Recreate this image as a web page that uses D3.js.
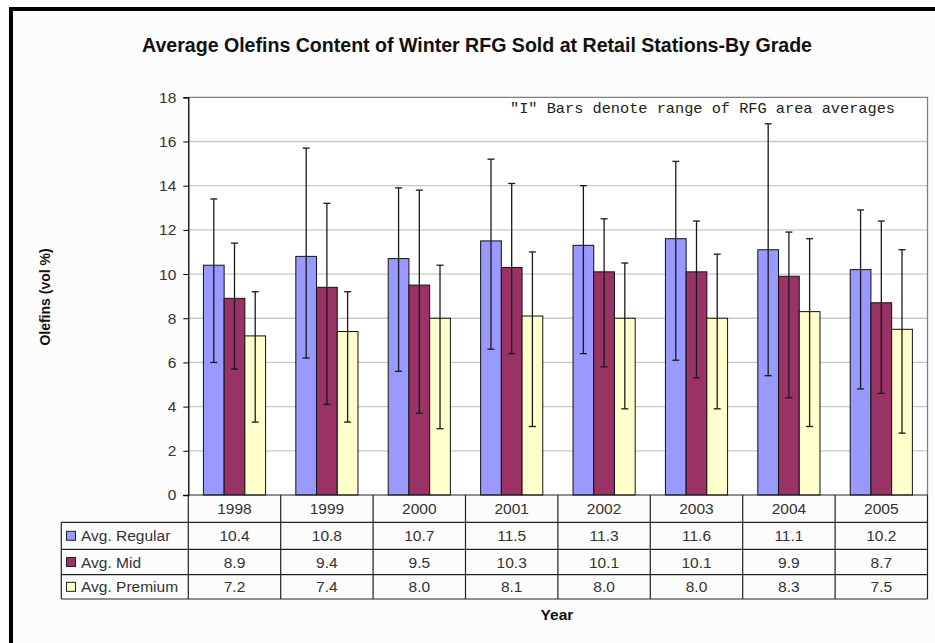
<!DOCTYPE html>
<html><head><meta charset="utf-8">
<script src="https://cdn.jsdelivr.net/npm/d3@7"></script>
<style>html,body{margin:0;padding:0;background:#fff;}svg{display:block;}</style>
</head><body>
<svg id="chart" width="935" height="643"></svg>
<script>
const years = ["1998","1999","2000","2001","2002","2003","2004","2005"];
const seriesNames = ["Avg. Regular","Avg. Mid","Avg. Premium"];
const seriesColors = ["#9999FF","#993366","#FFFFCC"];
const regular = [10.4,10.8,10.7,11.5,11.3,11.6,11.1,10.2];
const mid = [8.9,9.4,9.5,10.3,10.1,10.1,9.9,8.7];
const premium = [7.2,7.4,8.0,8.1,8.0,8.0,8.3,7.5];
const regularHigh = [13.4,15.7,13.9,15.2,14.0,15.1,16.8,12.9];
const regularLow = [6.0,6.2,5.6,6.6,6.4,6.1,5.4,4.8];
const midHigh = [11.4,13.2,13.8,14.1,12.5,12.4,11.9,12.4];
const midLow = [5.7,4.1,3.7,6.4,5.8,5.3,4.4,4.6];
const premiumHigh = [9.2,9.2,10.4,11.0,10.5,10.9,11.6,11.1];
const premiumLow = [3.3,3.3,3.0,3.1,3.9,3.9,3.1,2.8];
const yTicks = [0,2,4,6,8,10,12,14,16,18];
const title = "Average Olefins Content of Winter RFG Sold at Retail Stations-By Grade";
const note = "\"I\" Bars denote range of RFG area averages";

const values = [regular, mid, premium];
const highs = [regularHigh, midHigh, premiumHigh];
const lows = [regularLow, midLow, premiumLow];

const svg = d3.select("#chart");
const font = "'Liberation Sans', Arial, sans-serif";

// frame
svg.append("rect").attr("x",9).attr("y",7).attr("width",940).attr("height",650).attr("fill","#fcfcfc");
svg.append("rect").attr("x",9).attr("y",7).attr("width",4).attr("height",640).attr("fill","#000");
svg.append("rect").attr("x",9).attr("y",7).attr("width",930).attr("height",4).attr("fill","#000");

const L = 188.3, R = 927.5, T = 97.3, B = 495;
const x = d3.scaleBand().domain(years).range([L, R]).paddingInner(0).paddingOuter(0);
const xs = d3.scaleBand().domain([0,1,2]).range([0, x.bandwidth()]).paddingInner(0).paddingOuter(0.73);
const y = d3.scaleLinear().domain([0,18]).range([B, T]);

// plot background
svg.append("rect").attr("x",L).attr("y",T).attr("width",R-L).attr("height",B-T).attr("fill","#fff");

// gridlines
svg.append("g").selectAll("line").data(yTicks.filter(d=>d>0 && d<18)).join("line")
  .attr("x1",L).attr("x2",R).attr("y1",d=>y(d)).attr("y2",d=>y(d))
  .attr("stroke","#c8c8c8").attr("stroke-width",1.3);

// plot border (top/right)
svg.append("path").attr("d",`M${L},${T}H${R}V${B}`).attr("fill","none").attr("stroke","#808080").attr("stroke-width",1.3);

// bars
const g = svg.append("g");
years.forEach((yr,i)=>{
  values.forEach((vals,s)=>{
    g.append("rect")
      .attr("x", x(yr)+xs(s)).attr("y", y(vals[i]))
      .attr("width", xs.bandwidth()).attr("height", y(0)-y(vals[i]))
      .attr("fill", seriesColors[s]).attr("stroke","#111").attr("stroke-width",1);
  });
});
// error bars
years.forEach((yr,i)=>{
  values.forEach((vals,s)=>{
    const cx = x(yr)+xs(s)+xs.bandwidth()/2;
    const eg = g.append("g").attr("stroke","#1a1a1a").attr("stroke-width",1.3);
    eg.append("line").attr("x1",cx).attr("x2",cx).attr("y1",y(highs[s][i])).attr("y2",y(lows[s][i]));
    eg.append("line").attr("x1",cx-3.5).attr("x2",cx+3.5).attr("y1",y(highs[s][i])).attr("y2",y(highs[s][i]));
    eg.append("line").attr("x1",cx-3.5).attr("x2",cx+3.5).attr("y1",y(lows[s][i])).attr("y2",y(lows[s][i]));
  });
});

// y axis
const yAxis = d3.axisLeft(y).tickValues(yTicks).tickSize(5).tickPadding(7).tickFormat(d3.format("d"));
const ya = svg.append("g").attr("transform",`translate(${L},0)`).call(yAxis);
ya.select(".domain").attr("stroke","#000").attr("stroke-width",1.3);
ya.selectAll(".tick line").attr("stroke","#000");
ya.selectAll("text").attr("font-family",font).attr("font-size",15.5).attr("fill","#333");

// data table
const rowY = [B, 522.3, 549.3, 574.7, 599];
const TL = 61.3;
const tg = svg.append("g").attr("stroke","#222").attr("stroke-width",1.2);
tg.append("line").attr("x1",L).attr("x2",R).attr("y1",rowY[0]).attr("y2",rowY[0]);
for (let k=1;k<rowY.length;k++) tg.append("line").attr("x1",TL).attr("x2",R).attr("y1",rowY[k]).attr("y2",rowY[k]);
const bounds = years.map(yr=>x(yr)).concat([R]);
bounds.forEach(bx=>tg.append("line").attr("x1",bx).attr("x2",bx).attr("y1",B).attr("y2",rowY[4]));
tg.append("line").attr("x1",TL).attr("x2",TL).attr("y1",rowY[1]).attr("y2",rowY[4]);

// header years
svg.append("g").selectAll("text").data(years).join("text")
  .attr("x",d=>x(d)+x.bandwidth()/2).attr("y",(rowY[0]+rowY[1])/2+5.5)
  .attr("text-anchor","middle").attr("font-family",font).attr("font-size",15.5).attr("fill","#333").text(d=>d);
// rows
seriesNames.forEach((name,s)=>{
  const cy = (rowY[s+1]+rowY[s+2])/2;
  svg.append("rect").attr("x",66.5).attr("y",cy-4.5).attr("width",9).attr("height",9)
    .attr("fill",seriesColors[s]).attr("stroke","#222").attr("stroke-width",1);
  svg.append("text").attr("x",81).attr("y",cy+5.5).attr("font-family",font).attr("font-size",15.5).attr("fill","#333").text(name);
  svg.append("g").selectAll("text").data(values[s]).join("text")
    .attr("x",(d,i)=>x(years[i])+x.bandwidth()/2).attr("y",cy+5.5)
    .attr("text-anchor","middle").attr("font-family",font).attr("font-size",15.5).attr("fill","#333")
    .text(d=>d.toFixed(1));
});

// title
svg.append("text").attr("x",477).attr("y",52).attr("text-anchor","middle")
  .attr("font-family",font).attr("font-weight","bold").attr("font-size",19.5)
  .attr("textLength",670).attr("lengthAdjust","spacingAndGlyphs").attr("fill","#111").text(title);
// note
svg.append("text").attr("x",895).attr("y",113).attr("text-anchor","end")
  .attr("font-family","'Liberation Mono','Courier New',monospace").attr("font-size",15)
  .attr("textLength",385).attr("lengthAdjust","spacingAndGlyphs").attr("fill","#222").text(note);
// axis titles
svg.append("text").attr("transform","translate(50,297) rotate(-90)").attr("text-anchor","middle")
  .attr("font-family",font).attr("font-weight","bold").attr("font-size",14).attr("fill","#111").text("Olefins (vol %)");
svg.append("text").attr("x",557).attr("y",620).attr("text-anchor","middle")
  .attr("font-family",font).attr("font-weight","bold").attr("font-size",15.5).attr("fill","#111").text("Year");
</script>
</body></html>
